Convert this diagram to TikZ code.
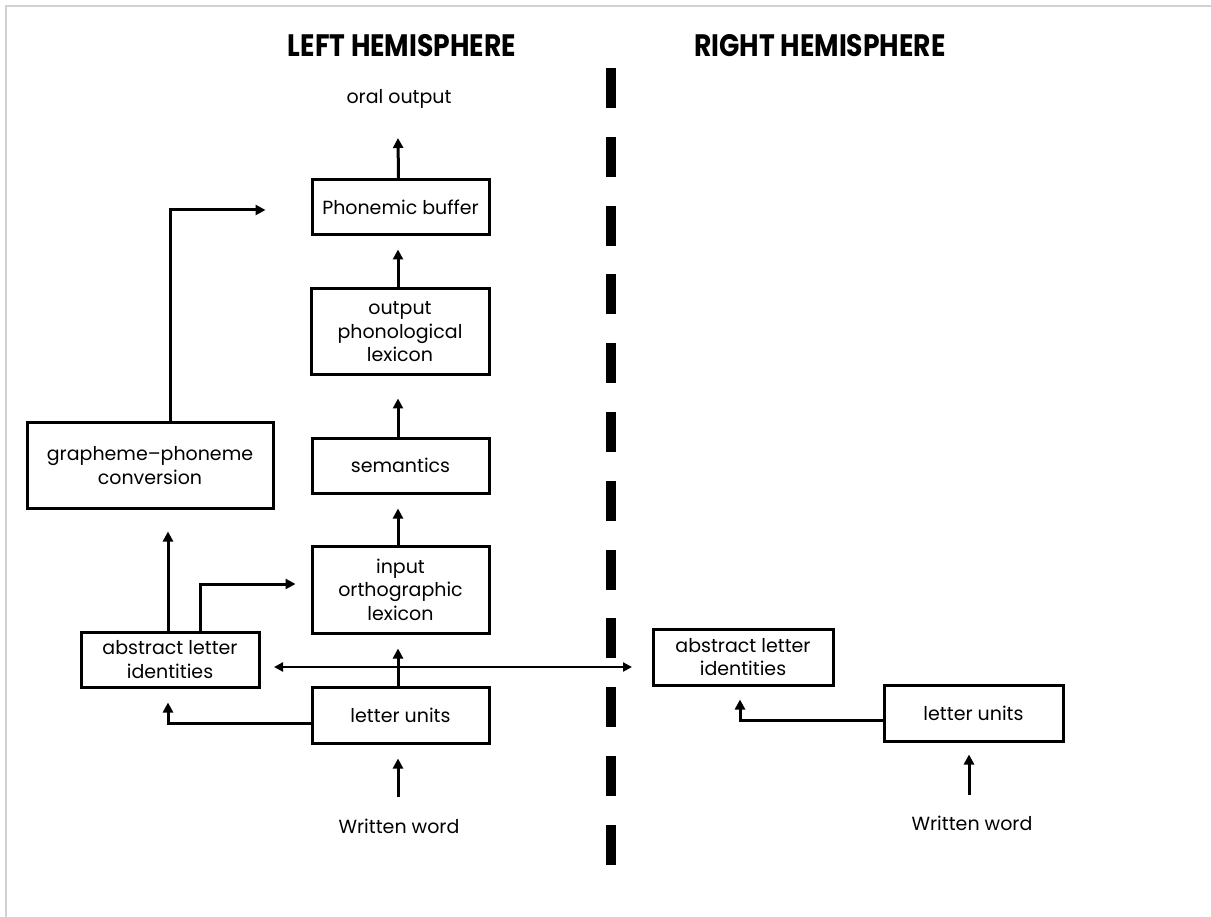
\documentclass[tikz,border=0pt]{standalone}
\usepackage{fontspec}
\setmainfont{Poppins}
\newfontfamily\titlefont{Poppins}[FakeStretch=0.86]
\usetikzlibrary{arrows.meta,calc}
\begin{document}
\begin{tikzpicture}[x=1pt,y=-1pt,
  box/.style={draw,line width=3pt,align=center,inner sep=0pt,font=\fontsize{19}{23.5}\selectfont},
  lbl/.style={align=center,inner sep=0pt,font=\fontsize{19}{23.5}\selectfont},
  ttl/.style={inner sep=0pt,font=\titlefont\bfseries\fontsize{31}{33}\selectfont},
  arr/.style={line width=3pt,-{Triangle[length=10pt,width=10pt]}},
  darr/.style={line width=2.2pt,{Triangle[length=9pt,width=9pt]}-{Triangle[length=9pt,width=9pt]}},
  sep/.style={line width=10pt,dash pattern=on 40pt off 28.8pt},
  frame/.style={draw=black!18,line width=1.5pt}]
\useasboundingbox (0,0) rectangle (1211,917);
\draw[frame] (6,917) -- (6,6) -- (1211,6);
% titles
\node[ttl] (tl) at (402,46) {LEFT HEMISPHERE};
\node[ttl] (tr) at (820,46) {RIGHT HEMISPHERE};
% left column
\node[lbl] (oral) at (399,99) {oral output};
\node[box,minimum width=177pt,minimum height=55pt] (pb) at (400.5,207.5) {Phonemic buffer};
\node[box,minimum width=178pt,minimum height=86pt] (opl) at (400,332) {output\\phonological\\lexicon};
\node[box,minimum width=177pt,minimum height=55pt] (sem) at (400.5,465.5) {semantics};
\node[box,minimum width=177pt,minimum height=87pt] (iol) at (400.5,589.5) {input\\orthographic\\lexicon};
\node[box,minimum width=177pt,minimum height=56pt] (lu) at (400.5,715) {letter units};
\node[lbl] (ww) at (399,826) {Written word};
\node[box,minimum width=178pt,minimum height=55pt] (ali) at (170,659.5) {abstract letter\\identities};
\node[box,minimum width=246pt,minimum height=85pt] (gpc) at (150,465.5) {grapheme–phoneme\\conversion};
% right column
\node[box,minimum width=180pt,minimum height=56pt] (ali2) at (743,657) {abstract letter\\identities};
\node[box,minimum width=179pt,minimum height=56pt] (lu2) at (973.5,713) {letter units};
\node[lbl] (ww2) at (972,823) {Written word};
% separator
\coordinate (st) at (611,68);
\coordinate (sb) at (611,865);
\draw[sep] (st) -- (sb);
% vertical arrows
\draw[arr] ($(pb.north)+(-2,0)$) -- ($(oral.center)+(-1,39)$);
\draw[arr] ($(opl.north)+(-2,0)$) -- ($(pb.south)+(-2.5,13)$);
\draw[arr] ($(sem.north)+(-2.5,0)$) -- ($(opl.south)+(-2,22)$);
\draw[arr] ($(iol.north)+(-2.5,0)$) -- ($(sem.south)+(-2.5,14)$);
\draw[arr] ($(lu.north)+(-2.5,0)$) -- ($(iol.south)+(-2.5,14)$);
\draw[arr] ($(ww.center)+(-1,-29)$) -- ($(lu.south)+(-2.5,14)$);
\draw[arr] ($(ww2.center)+(-3,-28)$) -- ($(lu2.south)+(-4.5,12)$);
% left branch arrows
\draw[arr] ($(lu.west)+(0,8)$) -| ($(ali.south)+(-2,14)$);
\draw[arr] ($(ali.north)+(-2,0)$) -- ($(gpc.south)+(18,22)$);
\draw[arr] ($(ali.north)+(30,0)$) |- ($(iol.west)+(-15,-5.5)$);
\draw[arr] ($(gpc.north)+(20,0)$) |- ($(pb.west)+(-45,2.5)$);
% right branch
\draw[arr] ($(lu2.west)+(0,7)$) -| ($(ali2.south)+(-3,13)$);
% cross-hemisphere
\coordinate (dl) at (274,667);
\coordinate (dr) at (632,667);
\draw[darr] (dl) -- (dr);
\end{tikzpicture}
\end{document}
